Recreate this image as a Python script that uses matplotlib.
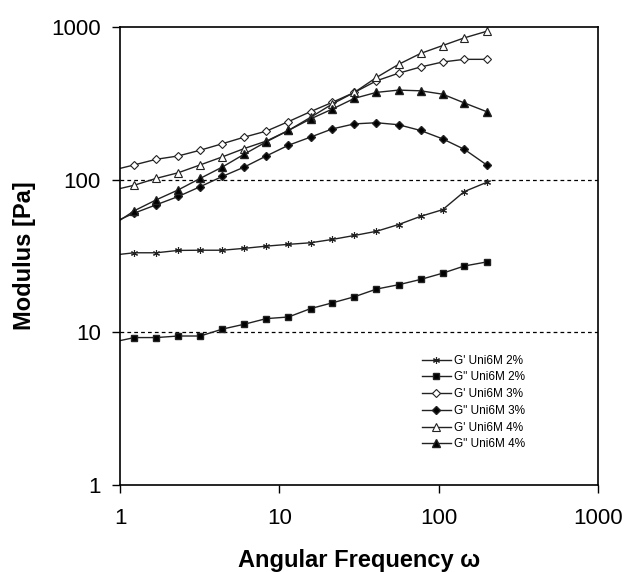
import matplotlib.pyplot as plt
from matplotlib.ticker import FixedLocator, FixedFormatter, NullLocator

plt.rcParams['font.family'] = ['Liberation Sans', 'DejaVu Sans']

# angular frequency (rad/s) of the sweep points
freq = [0.89, 1.23, 1.69, 2.32, 3.19, 4.39, 6.03, 8.29, 11.4, 15.7,
        21.5, 29.6, 40.7, 56.0, 77.0, 106, 145, 200]

g1_2 = [32, 33.2, 33.2, 34.4, 34.5, 34.5, 35.5, 36.7, 37.7, 38.6,
        40.6, 43.1, 45.9, 50.8, 57.5, 63.6, 83.6, 96]
g2_2 = [8.6, 9.24, 9.24, 9.46, 9.46, 10.5, 11.3, 12.3, 12.6, 14.3,
        15.6, 17.1, 19.2, 20.5, 22.2, 24.4, 27.2, 28.9]
g1_3 = [115, 125, 136, 143, 156, 172, 190, 208, 240, 279,
        321, 373, 444, 498, 547, 590, 614, 614]
g2_3 = [52, 60.4, 68.5, 77.6, 90, 105, 121, 143, 168, 190,
        215, 232, 236, 229, 210, 185, 158, 125]
g1_4 = [85, 92, 102, 111, 125, 141, 160, 179, 210, 256,
        313, 373, 467, 569, 671, 756, 849, 937]
g2_4 = [50, 62.6, 73.8, 85.7, 102, 121, 147, 177, 210, 250,
        290, 341, 373, 386, 382, 363, 318, 279]

labels = ["G' Uni6M 2%", 'G" Uni6M 2%', "G' Uni6M 3%",
          'G" Uni6M 3%', "G' Uni6M 4%", 'G" Uni6M 4%']

fig = plt.figure(figsize=(6.27, 5.72), dpi=100)
ax = fig.add_axes([0.1914, 0.1521, 0.7623, 0.8007])

col = '#222222'
ax.plot(freq, g1_2, color=col, lw=1, marker=(6, 2, 0), ms=5, mew=0.8, label=labels[0])
ax.plot(freq, g2_2, color=col, lw=1, marker='s', ms=5, mfc='black', label=labels[1])
ax.plot(freq, g1_3, color=col, lw=1, marker='D', ms=4.5, mfc='white', mew=0.8, label=labels[2])
ax.plot(freq, g2_3, color=col, lw=1, marker='D', ms=4.5, mfc='black', label=labels[3])
ax.plot(freq, g1_4, color=col, lw=1, marker='^', ms=6, mfc='white', mew=0.8, label=labels[4])
ax.plot(freq, g2_4, color=col, lw=1, marker='^', ms=6, mfc='black', label=labels[5])

ax.set_xscale('log')
ax.set_yscale('log')
ax.set_xlim(1, 1000)
ax.set_ylim(1, 1000)

ticks = [1, 10, 100, 1000]
for axis in (ax.xaxis, ax.yaxis):
    axis.set_major_locator(FixedLocator(ticks))
    axis.set_major_formatter(FixedFormatter(['1', '10', '100', '1000']))
    axis.set_minor_locator(NullLocator())
ax.tick_params(direction='out', length=5.8, width=1, labelsize=16, color='black')
ax.tick_params(axis='x', pad=11)
ax.tick_params(axis='y', pad=8)

for v in (10, 100):
    ax.axhline(v, color='black', lw=0.9, ls=(0, (3, 2.5)), zorder=0)

for s in ax.spines.values():
    s.set_linewidth(1.2)

ax.set_xlabel('Angular Frequency ω', fontsize=17, fontweight='bold', labelpad=14)
ax.set_ylabel('Modulus [Pa]', fontsize=17, fontweight='bold', labelpad=11)

ax.legend(loc='center', bbox_to_anchor=(0.74, 0.18), frameon=False,
          fontsize=8.5, handlelength=2.4, labelspacing=0.4, handletextpad=0.3,
          borderpad=0)

fig.savefig('out.png', dpi=100)
